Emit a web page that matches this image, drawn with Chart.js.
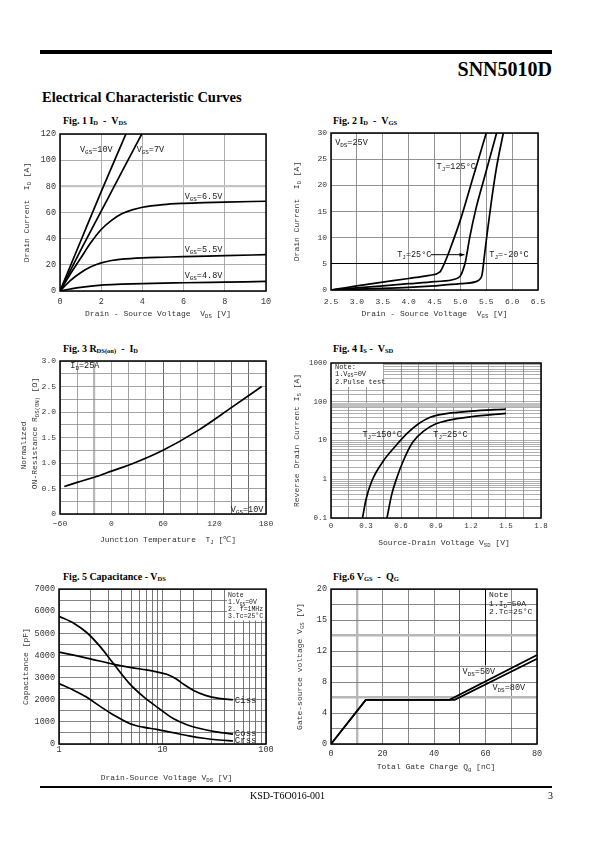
<!DOCTYPE html>
<html>
<head>
<meta charset="utf-8">
<script src="https://cdn.jsdelivr.net/npm/chart.js@4.4.1/dist/chart.umd.min.js"></script>
<style>
body{margin:0;background:#fff;width:595px;height:842px;position:relative;overflow:hidden;font-family:"Liberation Serif",serif;}
.abs{position:absolute;white-space:nowrap;line-height:1;}
canvas{position:absolute;}
.fig{position:absolute;font:bold 10px "Liberation Serif",serif;line-height:10px;white-space:nowrap;}
.fig sub{font-size:6.5px;vertical-align:-1px;}
</style>
</head>
<body>
<div class="abs" style="left:40px;top:50px;width:512px;height:4px;background:#000"></div>
<div class="abs" style="right:43px;top:58px;font:bold 20px 'Liberation Serif',serif">SNN5010D</div>
<div class="abs" style="left:42px;top:89px;font:bold 14.5px 'Liberation Serif',serif">Electrical Characteristic Curves</div>

<div class="fig" style="left:63px;top:116px">Fig. 1 I<sub>D</sub> &nbsp;- &nbsp;V<sub>DS</sub></div>
<div class="fig" style="left:333px;top:116px">Fig. 2 I<sub>D</sub> &nbsp;- &nbsp;V<sub>GS</sub></div>
<div class="fig" style="left:63px;top:344px">Fig. 3 R<sub>DS(on)</sub> &nbsp;- &nbsp;I<sub>D</sub></div>
<div class="fig" style="left:333px;top:344px">Fig. 4 I<sub>S</sub> - &nbsp;V<sub>SD</sub></div>
<div class="fig" style="left:63px;top:572px">Fig. 5 Capacitance - V<sub>DS</sub></div>
<div class="fig" style="left:333px;top:572px">Fig.6 V<sub>GS</sub> &nbsp;- &nbsp;Q<sub>G</sub></div>

<canvas id="c1"></canvas>
<canvas id="c2"></canvas>
<canvas id="c3"></canvas>
<canvas id="c4"></canvas>
<canvas id="c5"></canvas>
<canvas id="c6"></canvas>

<div class="abs" style="left:40px;top:786px;width:512px;height:1.5px;background:#000"></div>
<div class="abs" style="left:250px;top:790px;font:10px 'Liberation Serif',serif">KSD-T6O016-001</div>
<div class="abs" style="left:548px;top:790px;font:10px 'Liberation Serif',serif">3</div>

<script>
// Fig.1  ID - VDS
var fig1_vgs10_v = [0, 1, 2, 3.2];
var fig1_vgs10_i = [0, 38, 76, 120];
var fig1_vgs7_v = [0, 1, 2, 3, 3.97];
var fig1_vgs7_i = [0, 31, 61, 91, 120];
var fig1_vgs65_v = [0, 0.5, 1, 1.5, 2, 2.5, 3, 3.5, 4, 5, 6, 7, 8, 10];
var fig1_vgs65_i = [0, 13, 25, 37, 47, 54, 59, 62, 64, 66, 67, 67.6, 68, 68.6];
var fig1_vgs55_v = [0, 0.5, 1, 1.5, 2, 2.5, 3, 4, 5, 6, 8, 10];
var fig1_vgs55_i = [0, 8, 14, 18.5, 21.5, 23.3, 24.3, 25.3, 25.8, 26.3, 27, 27.8];
var fig1_vgs48_v = [0, 0.5, 1, 2, 3, 4, 6, 8, 10];
var fig1_vgs48_i = [0, 1.5, 2.8, 4.5, 5.2, 5.7, 6.3, 6.8, 7.3];

// Fig.2  ID - VGS
var fig2_t125_v = [2.5, 3, 3.5, 4, 4.4, 4.6, 4.7, 4.8, 5, 5.25, 5.5];
var fig2_t125_i = [0, 0.8, 1.5, 2.2, 2.8, 3.4, 5.3, 7.8, 13.4, 21.7, 30];
var fig2_t25_v = [2.5, 3, 3.5, 4, 4.5, 4.9, 5, 5.05, 5.1, 5.18, 5.3, 5.47, 5.7];
var fig2_t25_i = [0, 0.4, 0.8, 1.2, 1.6, 2.1, 2.7, 3.8, 5.5, 10, 15.5, 21.7, 30];
var fig2_tm20_v = [2.5, 3, 3.5, 4, 4.5, 5, 5.3, 5.38, 5.42, 5.47, 5.52, 5.6, 5.7, 5.83];
var fig2_tm20_i = [0, 0.15, 0.3, 0.5, 0.8, 1.2, 1.6, 2.1, 3, 7, 11, 17, 23.5, 30];

// Fig.3  RDS(on) - Tj
var fig3_tj = [-55, -40, -20, 0, 25, 60, 100, 140, 175];
var fig3_r = [0.54, 0.62, 0.72, 0.84, 0.99, 1.25, 1.63, 2.09, 2.5];

// Fig.4  IS - VSD
var fig4_t150_v = [0.27, 0.3, 0.35, 0.45, 0.55, 0.65, 0.75, 0.85, 1.0, 1.2, 1.5];
var fig4_t150_i = [0.1, 0.3, 0.9, 3, 7, 15, 27, 40, 50, 57, 65];
var fig4_t25_v = [0.48, 0.52, 0.56, 0.62, 0.7, 0.8, 0.9, 1.0, 1.2, 1.5];
var fig4_t25_i = [0.1, 0.4, 1, 3, 9, 18, 27, 33, 41, 50];

// Fig.5  Capacitance - VDS
var fig5_ciss_v = [1, 1.5, 2, 3.4, 5, 7, 9, 11, 13.5, 16, 20, 26, 35, 48];
var fig5_ciss_c = [4150, 3980, 3850, 3600, 3450, 3350, 3250, 3150, 2950, 2700, 2420, 2200, 2060, 2000];
var fig5_coss_v = [1, 1.4, 1.84, 2.5, 3.4, 4.8, 6.5, 8.8, 12.7, 17, 23, 33, 48];
var fig5_coss_c = [5770, 5450, 5050, 4400, 3600, 2730, 2150, 1680, 1150, 880, 700, 550, 450];
var fig5_crss_v = [1, 1.4, 1.84, 2.5, 3.4, 4.8, 6.5, 8.8, 13, 18, 25, 35, 48];
var fig5_crss_c = [2730, 2420, 2120, 1700, 1300, 930, 760, 660, 500, 370, 260, 180, 135];

// Fig.6  VGS - QG
var fig6_vds50_q = [0, 13.5, 46, 80];
var fig6_vds50_v = [0, 5.7, 5.7, 11.5];
var fig6_vds80_q = [0, 13.5, 48, 80];
var fig6_vds80_v = [0, 5.7, 5.7, 11.0];
var fig6_vgs_ticks = ['0', '4', '8', '12', '15', '20'];

var MONO = '"Liberation Mono", "DejaVu Sans Mono", monospace';

function rich(s) {
    var out = [], re = /_\{([^}]*)\}/g, last = 0, m;
    while ((m = re.exec(s))) {
        if (m.index > last) out.push([s.slice(last, m.index), 0]);
        out.push([m[1], 1]);
        last = re.lastIndex;
    }
    if (last < s.length) out.push([s.slice(last), 0]);
    return out;
}

function drawRich(ctx, s, x, y, size, align, color) {
    var parts = rich(s), w = 0;
    parts.forEach(function (p) {
        ctx.font = (p[1] ? size * 0.7 : size) + 'px ' + MONO;
        p.w = ctx.measureText(p[0]).width;
        w += p.w;
    });
    var cx = align === 'center' ? x - w / 2 : (align === 'right' ? x - w : x);
    ctx.fillStyle = color;
    ctx.textBaseline = 'middle';
    ctx.textAlign = 'left';
    parts.forEach(function (p) {
        ctx.font = (p[1] ? size * 0.7 : size) + 'px ' + MONO;
        ctx.fillText(p[0], cx, y + (p[1] ? size * 0.3 : 0));
        cx += p.w;
    });
}

var deco = {
    id: 'deco',
    beforeDatasetsDraw: function (chart, args, o) {
        var ctx = chart.ctx, sx = chart.scales.x, sy = chart.scales.y;
        ctx.save();
        ctx.fillStyle = '#fff';
        (o.boxes || []).forEach(function (b) {
            var x1 = sx.getPixelForValue(b[0]), x2 = sx.getPixelForValue(b[2]);
            var y1 = sy.getPixelForValue(b[1]), y2 = sy.getPixelForValue(b[3]);
            ctx.fillRect(Math.min(x1, x2), Math.min(y1, y2), Math.abs(x2 - x1), Math.abs(y2 - y1));
        });
        ctx.restore();
    },
    afterDatasetsDraw: function (chart, args, o) {
        var ctx = chart.ctx, a = chart.chartArea, sx = chart.scales.x, sy = chart.scales.y;
        ctx.save();
        ctx.strokeStyle = '#000';
        ctx.lineWidth = 1.5;
        ctx.strokeRect(a.left, a.top, a.right - a.left, a.bottom - a.top);
        ctx.lineWidth = 1;
        (o.lines || []).forEach(function (l) {
            var x1 = sx.getPixelForValue(l[0]), y1 = sy.getPixelForValue(l[1]);
            var x2 = sx.getPixelForValue(l[2]), y2 = sy.getPixelForValue(l[3]);
            ctx.beginPath(); ctx.moveTo(x1, y1); ctx.lineTo(x2, y2); ctx.stroke();
            if (l[4]) {
                ctx.beginPath(); ctx.moveTo(x2, y2); ctx.lineTo(x2 - 5, y2 - 2); ctx.lineTo(x2 - 5, y2 + 2); ctx.closePath();
                ctx.fillStyle = '#000'; ctx.fill();
            }
        });
        (o.labels || []).forEach(function (t) {
            drawRich(ctx, t.text, sx.getPixelForValue(t.x), sy.getPixelForValue(t.y), t.size || 8.5, t.align || 'left', '#222');
        });
        if (o.xTitle) {
            drawRich(ctx, o.xTitle.text, (a.left + a.right) / 2 + (o.xTitle.dx || 0), a.bottom + o.xTitle.dy, o.xTitle.size || 8, 'center', '#333');
        }
        (o.yTitles || []).forEach(function (t) {
            ctx.save();
            ctx.translate(a.left - t.dx, (a.top + a.bottom) / 2 + (t.dy || 0));
            ctx.rotate(-Math.PI / 2);
            drawRich(ctx, t.text, 0, 0, t.size || 8, 'center', '#333');
            ctx.restore();
        });
        ctx.restore();
    }
};
Chart.register(deco);

function pts(xs, ys) {
    return xs.map(function (x, i) { return { x: x, y: ys[i] }; });
}
function ds(xs, ys, extra) {
    return Object.assign({ data: pts(xs, ys) }, extra || {});
}

function axis(o) {
    return {
        type: o.type || 'linear', min: o.min, max: o.max,
        border: { display: false },
        grid: { drawTicks: false, color: o.gridColor || '#8c8c8c', lineWidth: o.gridWidth || 0.8 },
        ticks: {
            autoSkip: false, maxRotation: 0, stepSize: o.step, padding: o.pad, color: '#333',
            font: { family: MONO, size: o.size || 8.5 }, callback: o.cb
        }
    };
}

function special(map, def) {
    return function (c) {
        var v = c.tick ? c.tick.value : null;
        for (var k in map) if (Math.abs(v - Number(k)) < 1e-6) return map[k];
        return def;
    };
}

function isLogMajor(v) {
    var l = Math.log10(v);
    return Math.abs(l - Math.round(l)) < 1e-6;
}

function build(id, rect, plot, xAxis, yAxis, datasets, decoOpts) {
    var c = document.getElementById(id);
    c.width = rect[2]; c.height = rect[3];
    c.style.left = rect[0] + 'px'; c.style.top = rect[1] + 'px';
    var yw = plot[0] - rect[0], xh = rect[1] + rect[3] - plot[3];
    xAxis.afterFit = function (s) { s.height = xh; };
    yAxis.afterFit = function (s) { s.width = yw; };
    return new Chart(c, {
        type: 'line',
        data: { datasets: datasets },
        options: {
            responsive: false, animation: false, events: [],
            layout: { padding: { left: 0, top: plot[1] - rect[1], right: rect[0] + rect[2] - plot[2], bottom: 0 } },
            plugins: { legend: { display: false }, tooltip: { enabled: false }, deco: decoOpts },
            elements: {
                point: { radius: 0 },
                line: { borderColor: '#000', borderWidth: 1.7, tension: 0.3, cubicInterpolationMode: 'monotone', fill: false }
            },
            scales: { x: xAxis, y: yAxis }
        }
    });
}

// Fig.1
build('c1', [3, 124, 282, 205], [60, 134, 266, 291],
    axis({ min: 0, max: 10, step: 2, pad: 6, size: 8.5, gridColor: '#999', cb: function (v) { return String(v); } }),
    axis({ min: 0, max: 120, step: 20, pad: 4, size: 8.5,
        gridColor: special({ 80: '#c4c4c4' }, '#999'), gridWidth: special({ 80: 2.2 }, 0.8),
        cb: function (v) { return String(v); } }),
    [ds(fig1_vgs10_v, fig1_vgs10_i), ds(fig1_vgs7_v, fig1_vgs7_i), ds(fig1_vgs65_v, fig1_vgs65_i),
     ds(fig1_vgs55_v, fig1_vgs55_i), ds(fig1_vgs48_v, fig1_vgs48_i)],
    {
        labels: [
            { text: 'V_{GS}=10V', x: 0.97, y: 108 },
            { text: 'V_{GS}=7V', x: 3.72, y: 108 },
            { text: 'V_{GS}=6.5V', x: 6.05, y: 72 },
            { text: 'V_{GS}=5.5V', x: 6.05, y: 31.3 },
            { text: 'V_{GS}=4.8V', x: 6.05, y: 11.7 }
        ],
        xTitle: { text: 'Drain - Source Voltage  V_{DS} [V]', dy: 23, dx: -5 },
        yTitles: [{ text: 'Drain Current  I_{D} [A]', dx: 33 }]
    });

// Fig.2
build('c2', [288, 123, 282, 206], [331, 133, 538, 290],
    axis({ min: 2.5, max: 6.5, step: 0.5, pad: 7, size: 8, gridColor: '#777', cb: function (v) { return v.toFixed(1); } }),
    axis({ min: 0, max: 30, step: 5, pad: 4, size: 8,
        gridColor: special({ 5: '#000' }, '#777'), gridWidth: special({ 5: 1 }, 0.8),
        cb: function (v) { return String(v); } }),
    [ds(fig2_t125_v, fig2_t125_i), ds(fig2_t25_v, fig2_t25_i), ds(fig2_tm20_v, fig2_tm20_i)],
    {
        labels: [
            { text: 'V_{DS}=25V', x: 2.58, y: 28.1 },
            { text: 'T_{J}=125°C', x: 4.54, y: 23.6 },
            { text: 'T_{J}=25°C', x: 3.78, y: 6.75 },
            { text: 'T_{J}=-20°C', x: 5.56, y: 6.75 }
        ],
        lines: [[4.43, 6.75, 5.08, 6.75, true]],
        xTitle: { text: 'Drain - Source Voltage  V_{GS} [V]', dy: 24 },
        yTitles: [{ text: 'Drain Current  I_{D} [A]', dx: 34 }]
    });

// Fig.3
build('c3', [3, 351, 282, 205], [60, 361, 266, 514],
    axis({ min: -60, max: 180, step: 20, pad: 5, size: 8,
        gridColor: special({ '-20': '#b8b8b8', 60: '#444', 140: '#444', 160: '#444' }, '#8c8c8c'),
        gridWidth: special({ '-20': 2.2 }, 0.8),
        cb: function (v) { return v % 60 === 0 ? (v < 0 ? '\u2212' + (-v) : String(v)) : ''; } }),
    axis({ min: 0, max: 3, step: 0.25, pad: 4, size: 8,
        cb: function (v) { return Math.abs(v * 2 - Math.round(v * 2)) < 1e-6 ? (v === 0 ? '0' : v.toFixed(1)) : ''; } }),
    [ds(fig3_tj, fig3_r)],
    {
        labels: [
            { text: 'I_{D}=25A', x: -48, y: 2.9 },
            { text: 'V_{GS}=10V', x: 177, y: 0.09, align: 'right' }
        ],
        xTitle: { text: 'Junction Temperature  T_{J} [\u2103]', dy: 26, dx: 5 },
        yTitles: [
            { text: 'Normalized', dx: 36, dy: 8 },
            { text: 'ON-Resistance R_{DS(ON)} [Ω]', dx: 25, dy: -4 }
        ]
    });

// Fig.4
build('c4', [288, 353, 282, 205], [331, 363, 541, 518],
    axis({ min: 0, max: 1.8, step: 0.15, pad: 4, size: 7.5, gridColor: '#808080',
        cb: function (v, i) { return i % 2 === 0 ? (v === 0 ? '0' : v.toFixed(1)) : ''; } }),
    axis({ type: 'logarithmic', min: 0.1, max: 1000, pad: 4, size: 7.5,
        gridColor: special({ 80: '#c0c0c0', 90: '#c0c0c0' }, '#8c8c8c'), gridWidth: special({ 80: 2, 90: 2 }, 0.7),
        cb: function (v) { return isLogMajor(v) ? String(+v.toPrecision(3)) : ''; } }),
    [ds(fig4_t150_v, fig4_t150_i), ds(fig4_t25_v, fig4_t25_i)],
    {
        boxes: [[0, 1000, 0.447, 240]],
        labels: [
            { text: 'Note:', x: 0.034, y: 790, size: 7 },
            { text: '1.V_{GS}=0V', x: 0.034, y: 530, size: 7 },
            { text: '2.Pulse test', x: 0.034, y: 325, size: 7 },
            { text: 'T_{J}=150°C', x: 0.27, y: 14.3 },
            { text: 'T_{J}=25°C', x: 0.877, y: 14.3 }
        ],
        xTitle: { text: 'Source-Drain Voltage V_{SD} [V]', dy: 25, dx: 8 },
        yTitles: [{ text: 'Reverse Drain Current I_{S} [A]', dx: 34 }]
    });

// Fig.5
build('c5', [3, 580, 282, 208], [59, 588, 266, 744],
    axis({ type: 'logarithmic', min: 1, max: 100, pad: 1, size: 8.5, gridColor: '#555',
        cb: function (v) { return isLogMajor(v) ? String(v) : ''; } }),
    axis({ min: 0, max: 7000, step: 500, pad: 4, size: 8.5, gridColor: '#666',
        cb: function (v) { return v % 1000 === 0 ? String(v) : ''; } }),
    [ds(fig5_ciss_v, fig5_ciss_c), ds(fig5_coss_v, fig5_coss_c), ds(fig5_crss_v, fig5_crss_c)],
    {
        boxes: [[42, 7000, 100, 5580]],
        labels: [
            { text: 'Note', x: 43, y: 6730, size: 6.5 },
            { text: '1.V_{GS}=0V', x: 43, y: 6400, size: 6.5 },
            { text: '2. f=1MHz', x: 43, y: 6100, size: 6.5 },
            { text: '3.Tc=25°C', x: 43, y: 5770, size: 6.5 },
            { text: 'Ciss', x: 50, y: 1980, size: 9 },
            { text: 'Coss', x: 50, y: 490, size: 9 },
            { text: 'Crss', x: 50, y: 150, size: 9 }
        ],
        xTitle: { text: 'Drain-Source Voltage V_{DS} [V]', dy: 34, dx: 4 },
        yTitles: [{ text: 'Capacitance [pF]', dx: 33 }]
    });

// Fig.6
build('c6', [288, 580, 282, 205], [331, 588, 537, 744],
    axis({ min: 0, max: 80, step: 10, pad: 5, size: 8.5,
        gridColor: special({ 10: '#b8b8b8', 50: '#333' }, '#6a6a6a'), gridWidth: special({ 10: 2.4 }, 0.8),
        cb: function (v) { return v % 20 === 0 ? String(v) : ''; } }),
    axis({ min: 0, max: 20, step: 2, pad: 4, size: 8.5,
        gridColor: special({ 6: '#b8b8b8', 14: '#b8b8b8' }, '#6a6a6a'), gridWidth: special({ 6: 2.4, 14: 2.4 }, 0.8),
        cb: function (v) { return v % 4 === 0 ? fig6_vgs_ticks[v / 4] : ''; } }),
    [ds(fig6_vds50_q, fig6_vds50_v, { tension: 0, cubicInterpolationMode: 'default' }),
     ds(fig6_vds80_q, fig6_vds80_v, { tension: 0, cubicInterpolationMode: 'default' })],
    {
        lines: [[60, 20, 60, 10.2]],
        labels: [
            { text: 'Note', x: 61.4, y: 19.2, size: 8 },
            { text: '1.I_{D}=50A', x: 61.4, y: 18.1, size: 8 },
            { text: '2.Tc=25°C', x: 61.4, y: 17.1, size: 8 },
            { text: 'V_{DS}=50V', x: 51.1, y: 9.3 },
            { text: 'V_{DS}=80V', x: 62.7, y: 7.25 }
        ],
        xTitle: { text: 'Total Gate Charge Q_{g} [nC]', dy: 23, dx: 2 },
        yTitles: [{ text: 'Gate-source voltage V_{GS} [V]', dx: 31 }]
    });
</script>
</body>
</html>
